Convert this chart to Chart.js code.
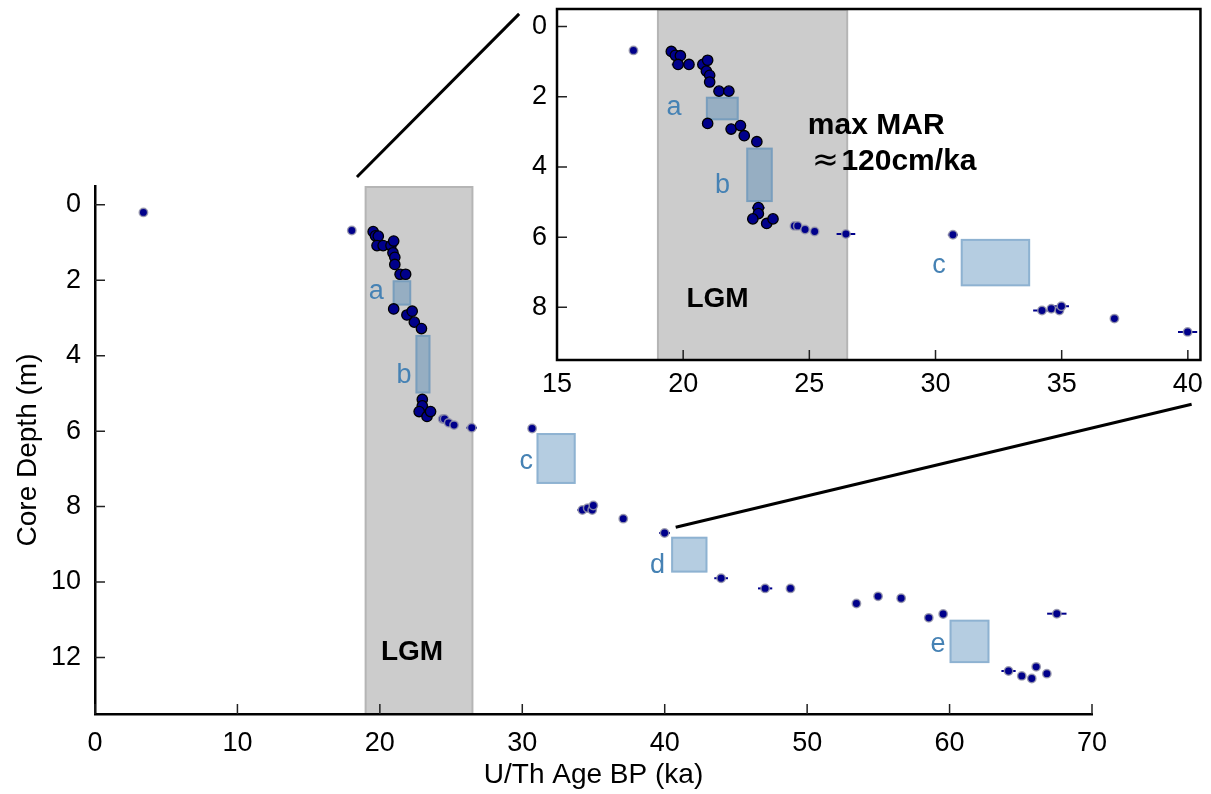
<!DOCTYPE html>
<html><head><meta charset="utf-8">
<script src="https://cdn.jsdelivr.net/npm/chart.js@4.4.1/dist/chart.umd.min.js"></script>
<style>
html,body{margin:0;padding:0;background:#fff;}
#wrap{position:relative;width:1211px;height:794px;overflow:hidden;}
#main{position:absolute;left:0;top:0;}
#inset{position:absolute;left:480px;top:-20px;}
</style></head><body>
<div id="wrap"><canvas id="main" width="1211" height="794"></canvas><canvas id="inset" width="731" height="420"></canvas></div>
<script>
// ---------------- data ----------------
const clusterAge   = [19.53,19.69,19.89,19.80,20.23,20.78,20.97,20.92,21.05,21.05,21.42,21.81,20.97,21.90,22.27,22.42,22.92,22.98,22.98,22.76,23.31,23.56];
const clusterDepth = [0.71,0.82,0.83,1.08,1.08,1.08,0.96,1.27,1.39,1.58,1.84,1.84,2.76,2.92,2.82,3.11,3.28,5.16,5.33,5.48,5.61,5.48];
const clusterErr   = [0,0,0,0.25,0,0,0,0,0,0,0,0,0,0,0,0.2,0,0.25,0,0.2,0,0];

const otherAge   = [3.4,18.03,24.41,24.54,24.83,25.21,26.45,30.69,34.22,34.59,34.91,34.99,37.09,39.99,43.96,47.05,48.83,53.46,54.98,56.60,58.54,59.55,67.53,64.14,65.07,65.77,66.08,66.83];
const otherDepth = [0.2,0.68,5.68,5.68,5.78,5.84,5.91,5.93,8.09,8.04,8.09,7.97,8.32,8.70,9.90,10.17,10.17,10.57,10.38,10.43,10.95,10.85,10.84,12.36,12.49,12.56,12.25,12.43];
const otherErr   = [0,0,0.15,0,0,0,0.37,0.2,0.35,0,0,0.3,0,0.38,0.48,0.5,0,0,0,0,0.15,0,0.68,0.5,0,0,0,0];

const lgmRange = [19, 26.5];

const boxLabel    = ['a','b','c','d','e'];
const boxAgeMin   = [20.9, 22.5, 31.0, 40.45, 60.0];
const boxAgeMax   = [22.2, 23.55, 33.75, 43.0, 62.8];
const boxDepthTop = [2.0, 3.45, 6.05, 8.8, 11.0];
const boxDepthBot = [2.67, 5.0, 7.4, 9.75, 12.15];

const mainLabelAge   = [19.75, 21.7, 30.27, 39.5, 59.18];
const mainLabelDepth = [2.50, 4.73, 7.01, 9.75, 11.86];
const insetBoxes      = [0, 1, 2];
const insetLabelAge   = [19.64, 21.56, 30.14];
const insetLabelDepth = [2.51, 4.74, 7.03];

const mainAgeRange = [0, 70];
const mainDepthRange = [-0.5, 13.5];
const insetAgeRange = [15, 40.5];
const insetDepthRange = [-0.5, 9.5];
const mainAgeTicks = [0,10,20,30,40,50,60,70];
const mainDepthTicks = [0,2,4,6,8,10,12];
const insetAgeTicks = [15,20,25,30,35,40];
const insetDepthTicks = [0,2,4,6,8];

const mainLGMPos = [22.26, 12.06];
const insetLGMPos = [21.36, 8.0];
const marTitlePos = [27.65, 3.05];
const marApproxPos = [25.64, 4.08];
const marValuePos = [26.27, 4.08];
const marTitle = 'max MAR';
const marValue = '120cm/ka';

// connector lines: [mainAge, mainDepth] -> [insetAge, insetDepth]
const connMain  = [[18.39, -0.74], [40.77, 8.55]];
const connInset = [[13.5, -0.36], [40.15, 10.76]];

// ---------------- drawing ----------------
const FONT = "'Liberation Sans', Arial, sans-serif";
Chart.defaults.font.family = FONT;
Chart.defaults.color = '#000';
const INSET_OFF = [480, -20];

function makeDatasets(){
  return [
    {label:'other', data: otherAge.map((a,i)=>({x:a, y:otherDepth[i]})), err: otherErr,
     backgroundColor:'#00008b', borderColor:'rgba(150,150,170,0.85)', borderWidth:1.5, pointRadius:4.2},
    {label:'cluster', data: clusterAge.map((a,i)=>({x:a, y:clusterDepth[i]})), err: clusterErr,
     backgroundColor:'#00008b', borderColor:'#000000', borderWidth:1.3, pointRadius:5.2}
  ];
}

function clipArea(ctx, a){ ctx.beginPath(); ctx.rect(a.left, a.top, a.right-a.left, a.bottom-a.top); ctx.clip(); }

function backgroundPlugin(boxIdx){
  return { id:'bg', beforeDraw(chart){
    const {ctx, chartArea:a, scales:{x,y}} = chart;
    ctx.save(); clipArea(ctx, a);
    const x0 = x.getPixelForValue(lgmRange[0]), x1 = x.getPixelForValue(lgmRange[1]);
    ctx.fillStyle = '#cccccc'; ctx.fillRect(x0, a.top, x1-x0, a.bottom-a.top);
    ctx.strokeStyle = '#b5b5b5'; ctx.lineWidth = 2; ctx.strokeRect(x0, a.top+1, x1-x0, a.bottom-a.top);
    boxIdx.forEach(i=>{
      const bx0 = x.getPixelForValue(boxAgeMin[i]), bx1 = x.getPixelForValue(boxAgeMax[i]);
      const by0 = y.getPixelForValue(boxDepthTop[i]), by1 = y.getPixelForValue(boxDepthBot[i]);
      ctx.fillStyle = 'rgba(70,130,180,0.4)'; ctx.fillRect(bx0, by0, bx1-bx0, by1-by0);
      ctx.strokeStyle = 'rgba(70,130,180,0.35)'; ctx.lineWidth = 2; ctx.strokeRect(bx0+1, by0+1, bx1-bx0-2, by1-by0-2);
    });
    ctx.restore();
  }};
}

const errorBarPlugin = { id:'err', beforeDatasetsDraw(chart){
  const {ctx, chartArea:a, scales:{x,y}} = chart;
  ctx.save(); clipArea(ctx, a);
  ctx.strokeStyle = '#00008b'; ctx.lineWidth = 2;
  chart.data.datasets.forEach(ds=>{
    ds.data.forEach((p,i)=>{
      const e = ds.err[i]; if (!e) return;
      const py = y.getPixelForValue(p.y);
      ctx.beginPath(); ctx.moveTo(x.getPixelForValue(p.x-e), py); ctx.lineTo(x.getPixelForValue(p.x+e), py); ctx.stroke();
    });
  });
  ctx.restore();
}};

function textPlugin(labelIdx, lAge, lDepth, lgmPos, withMar){
  return { id:'txt', afterDatasetsDraw(chart){
    const {ctx, scales:{x,y}} = chart;
    ctx.save();
    ctx.textBaseline = 'alphabetic'; ctx.textAlign = 'center';
    ctx.fillStyle = '#4682b4'; ctx.font = `27px ${FONT}`;
    labelIdx.forEach((bi,k)=>{ ctx.fillText(boxLabel[bi], x.getPixelForValue(lAge[k]), y.getPixelForValue(lDepth[k])); });
    ctx.fillStyle = '#000'; ctx.font = `bold 28px ${FONT}`;
    ctx.fillText('LGM', x.getPixelForValue(lgmPos[0]), y.getPixelForValue(lgmPos[1]));
    if (withMar){
      ctx.font = `bold 30px ${FONT}`;
      ctx.fillText(marTitle, x.getPixelForValue(marTitlePos[0]), y.getPixelForValue(marTitlePos[1]));
      ctx.font = `32px 'DejaVu Sans', ${FONT}`;
      ctx.fillText('\u2248', x.getPixelForValue(marApproxPos[0]), y.getPixelForValue(marApproxPos[1]));
      ctx.font = `bold 30px ${FONT}`; ctx.textAlign = 'left';
      ctx.fillText(marValue, x.getPixelForValue(marValuePos[0]), y.getPixelForValue(marValuePos[1]));
    }
    ctx.restore();
  }};
}

function tickPlugin(xt, yt, frame){
  return { id:'ticks', afterDraw(chart){
    const {ctx, chartArea:a, scales:{x,y}} = chart;
    ctx.save(); ctx.strokeStyle = '#222'; ctx.lineWidth = 1.5; ctx.beginPath();
    xt.forEach(v=>{ const p = x.getPixelForValue(v); ctx.moveTo(p, a.bottom); ctx.lineTo(p, a.bottom-10); });
    yt.forEach(v=>{ const p = y.getPixelForValue(v); ctx.moveTo(a.left, p); ctx.lineTo(a.left+10, p); });
    ctx.stroke();
    if (frame){ ctx.strokeStyle = '#000'; ctx.lineWidth = 2.5; ctx.strokeRect(a.left, a.top, a.right-a.left, a.bottom-a.top); }
    ctx.restore();
  }};
}

function axis(range, ticks, opts){
  return Object.assign({
    type:'linear', min:range[0], max:range[1],
    afterBuildTicks: s=>{ s.ticks = ticks.map(v=>({value:v})); },
    grid:{drawOnChartArea:false, drawTicks:false},
    ticks:{color:'#000', font:{size:26}, maxRotation:0, autoSkip:false}
  }, opts);
}

// ---------------- inset chart ----------------
const insetChart = new Chart(document.getElementById('inset'), {
  type:'scatter',
  data:{datasets: makeDatasets()},
  options:{
    responsive:false, animation:false, events:[],
    layout:{padding:{left:0, top:29, right:7, bottom:0}},
    plugins:{legend:{display:false}, tooltip:{enabled:false}},
    scales:{
      x: axis(insetAgeRange, insetAgeTicks, {position:'bottom', afterFit:s=>{s.height=40;},
          border:{display:false}, ticks:{color:'#000', font:{size:27}, padding:8, maxRotation:0, autoSkip:false}}),
      y: axis(insetDepthRange, insetDepthTicks, {reverse:true, afterFit:s=>{s.width=77;},
          border:{display:false}, ticks:{color:'#000', font:{size:27}, padding:10, autoSkip:false}})
    }
  },
  plugins:[backgroundPlugin(insetBoxes), errorBarPlugin, textPlugin(insetBoxes, insetLabelAge, insetLabelDepth, insetLGMPos, true), tickPlugin(insetAgeTicks, insetDepthTicks, true)]
});

// ---------------- main chart ----------------
const connectorPlugin = { id:'conn', afterDraw(chart){
  const {ctx, scales:{x,y}} = chart;
  const ix = insetChart.scales.x, iy = insetChart.scales.y;
  ctx.save(); ctx.strokeStyle = '#000'; ctx.lineWidth = 3;
  connMain.forEach((m,k)=>{
    const c = connInset[k];
    ctx.beginPath();
    ctx.moveTo(x.getPixelForValue(m[0]), y.getPixelForValue(m[1]));
    ctx.lineTo(ix.getPixelForValue(c[0]) + INSET_OFF[0], iy.getPixelForValue(c[1]) + INSET_OFF[1]);
    ctx.stroke();
  });
  ctx.restore();
}};

new Chart(document.getElementById('main'), {
  type:'scatter',
  data:{datasets: makeDatasets()},
  options:{
    responsive:false, animation:false, events:[],
    layout:{padding:{left:0, top:186, right:119, bottom:0}},
    plugins:{legend:{display:false}, tooltip:{enabled:false}},
    scales:{
      x: axis(mainAgeRange, mainAgeTicks, {position:'bottom', afterFit:s=>{s.height=80;},
          border:{display:true, color:'#000', width:2.5},
          ticks:{color:'#000', font:{size:27}, padding:13, maxRotation:0, autoSkip:false},
          title:{display:true, text:'U/Th Age BP (ka)', color:'#000', font:{size:28}, padding:{top:4, bottom:2}}}),
      y: axis(mainDepthRange, mainDepthTicks, {reverse:true, afterFit:s=>{s.width=95;},
          border:{display:true, color:'#000', width:2.5},
          ticks:{color:'#000', font:{size:27}, padding:14, autoSkip:false},
          title:{display:true, text:'Core Depth (m)', color:'#000', font:{size:28}, padding:{top:11, bottom:0}}})
    }
  },
  plugins:[backgroundPlugin([0,1,2,3,4]), errorBarPlugin, textPlugin([0,1,2,3,4], mainLabelAge, mainLabelDepth, mainLGMPos, false), tickPlugin(mainAgeTicks, mainDepthTicks, false), connectorPlugin]
});
</script>
</body></html>
